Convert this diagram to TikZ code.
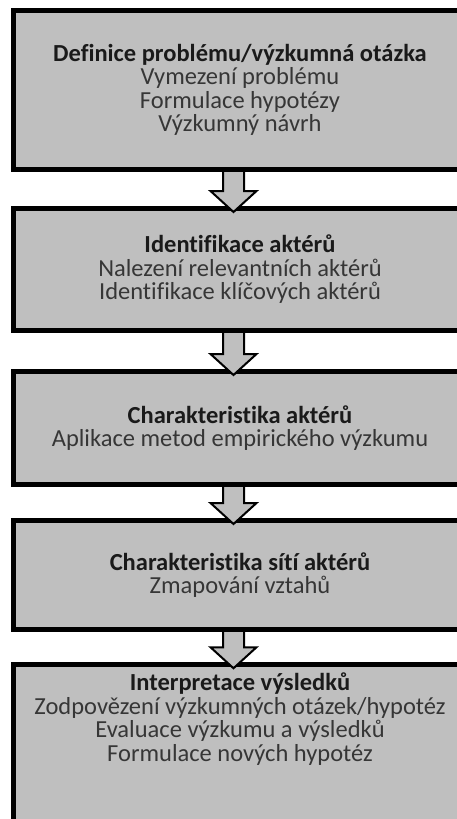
\documentclass[tikz,border=0pt]{standalone}
\usepackage{fontspec}
\setmainfont[Ligatures=NoCommon]{Carlito}
\usetikzlibrary{calc}
\definecolor{boxgray}{HTML}{BFBFBF}
\definecolor{txtdark}{HTML}{1A1A1A}
\definecolor{txtreg}{HTML}{363636}
\tikzset{
  stagebox/.style={draw=black, line width=5pt, fill=boxgray, minimum width=453pt,
    inner sep=0pt, outer sep=0pt, align=center, text=txtreg,
    font=\fontsize{24.5}{23.5}\selectfont},
  stagetext/.style={inner sep=0pt, outer sep=0pt, align=center, text=txtreg,
    font=\fontsize{24.5}{23.5}\selectfont},
  blockarrow/.style={fill=boxgray, draw=black, line width=2pt, line join=miter},
}
\newcommand{\ttl}[1]{\textbf{\color{txtdark}#1}}
\begin{document}
\begin{tikzpicture}[x=1pt,y=-1pt]
\useasboundingbox (0,0) rectangle (457,819);
\fill[white] (0,0) rectangle (457,819);
\clip (0,0) rectangle (457,819);
\node[stagebox, minimum height=159pt] (b1) at (240,90)
  {\ttl{Definice problému/výzkumná otázka}\\Vymezení problému\\Formulace hypotézy\\Výzkumný návrh};
\node[stagebox, minimum height=122pt] (b2) at (240,269.5)
  {\ttl{Identifikace aktérů}\\Nalezení relevantních aktérů\\Identifikace klíčových aktérů};
\node[stagebox, minimum height=113pt] (b3) at (240,428)
  {\ttl{Charakteristika aktérů}\\Aplikace metod empirického výzkumu};
\node[stagebox, minimum height=109pt] (b4) at (240,575)
  {\ttl{Charakteristika sítí aktérů}\\Zmapování vztahů};
\node[stagebox, minimum height=170pt] (b5) at (240,749.75) {};
\node[stagetext] (t5) at (240,719)
  {\ttl{Interpretace výsledků}\\Zodpovězení výzkumných otázek/hypotéz\\Evaluace výzkumu a výsledků\\Formulace nových hypotéz};
\foreach \a/\b in {b1/b2,b2/b3,b3/b4,b4/b5}{
  \filldraw[blockarrow]
    ($(\a.south)+(-17,2.5)$) -- ($(\b.north)+(-17,-17.5)$) -- ($(\b.north)+(-29.5,-17.5)$)
    -- ($(\b.north)+(-6.5,3.5)$) -- ($(\b.north)+(16.5,-17.5)$) -- ($(\b.north)+(4,-17.5)$)
    -- ($(\a.south)+(4,2.5)$);
}
\end{tikzpicture}
\end{document}
